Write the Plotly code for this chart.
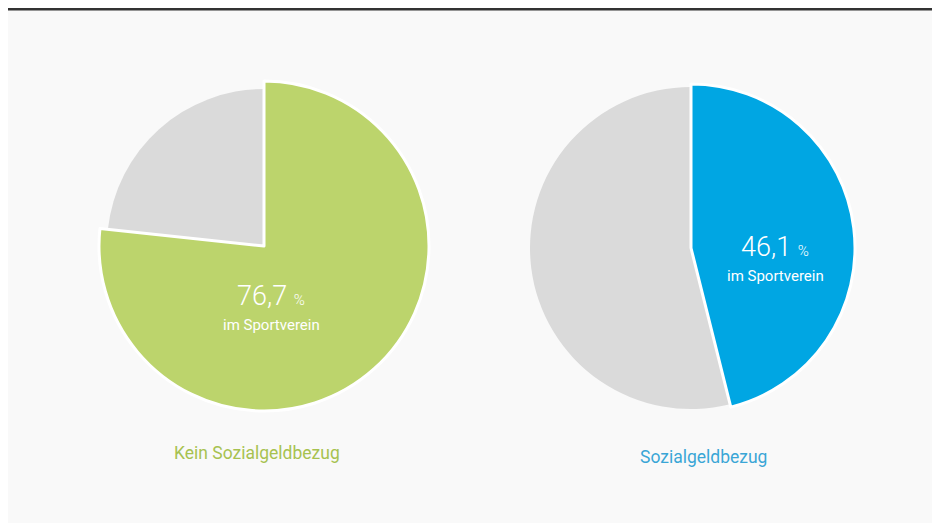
import plotly.graph_objects as go

# Data
groups = ["Kein Sozialgeldbezug", "Sozialgeldbezug"]
share_in_club = [76.7, 46.1]
slice_labels = ["im Sportverein", "nicht im Sportverein"]
highlight_colors = ["#bcd46c", "#00a6e3"]
label_colors = ["#a7c250", "#3aa6d6"]
rest_color = "#dadada"

W, H = 940, 523
bg = "#f9f9f9"
OFF = 8  # page offset of the plot div

# layout geometry in screen pixels
geom = [
    dict(cx=264, cy=246, r_hi=165, r_rest=157, tx=271, ty_num=296, ty_sub=325, lx=257, ly=453),
    dict(cx=691, cy=248, r_hi=164, r_rest=161, tx=775, ty_num=247, ty_sub=276, lx=703, ly=457),
]

def px(x):
    return (x - OFF) / W

def py(y):
    return 1 - (y - OFF) / H

def domain(cx, cy, r):
    return dict(x=[px(cx - r), px(cx + r)], y=[py(cy + r), py(cy - r)])

fig = go.Figure()
annotations = []
for i, g in enumerate(groups):
    v = share_in_club[i]
    vals = [v, round(100 - v, 1)]
    gm = geom[i]
    fig.add_trace(go.Pie(
        labels=slice_labels, values=vals, sort=False, direction="clockwise", rotation=0,
        domain=domain(gm["cx"], gm["cy"], gm["r_rest"]),
        marker=dict(colors=["rgba(0,0,0,0)", rest_color],
                    line=dict(color=["rgba(0,0,0,0)", bg], width=[0, 0])),
        textinfo="none", hoverinfo="skip", showlegend=False,
    ))
    fig.add_trace(go.Pie(
        labels=slice_labels, values=vals, sort=False, direction="clockwise", rotation=0,
        domain=domain(gm["cx"], gm["cy"], gm["r_hi"]),
        marker=dict(colors=[highlight_colors[i], "rgba(0,0,0,0)"],
                    line=dict(color=["#ffffff", "rgba(0,0,0,0)"], width=[3, 0])),
        textinfo="none", hoverinfo="skip", showlegend=False,
    ))
    num = f"{v:.1f}".replace(".", ",")
    annotations.append(dict(
        x=px(gm["tx"]), y=py(gm["ty_num"]), xref="paper", yref="paper",
        text=f"<span style='font-size:27px'>{num}</span> <span style='font-size:15px'>%</span>",
        showarrow=False, xanchor="center", yanchor="middle",
        font=dict(family="Roboto", size=27, color="white", weight=300),
    ))
    annotations.append(dict(
        x=px(gm["tx"]), y=py(gm["ty_sub"]), xref="paper", yref="paper",
        text=slice_labels[0], showarrow=False, xanchor="center", yanchor="middle",
        font=dict(family="Roboto", size=15, color="white"),
    ))
    annotations.append(dict(
        x=px(gm["lx"]), y=py(gm["ly"]), xref="paper", yref="paper",
        text=g, showarrow=False, xanchor="center", yanchor="middle",
        font=dict(family="Roboto", size=17.5, color=label_colors[i]),
    ))

fig.update_layout(
    width=W, height=H,
    margin=dict(l=0, r=0, t=0, b=0),
    paper_bgcolor=bg, plot_bgcolor=bg,
    annotations=annotations,
    shapes=[
        dict(type="line", xref="paper", yref="paper", x0=0, x1=px(937),
             y0=py(9), y1=py(9), line=dict(color="#333333", width=3)),
    ],
)

fig.write_html("out.html")
